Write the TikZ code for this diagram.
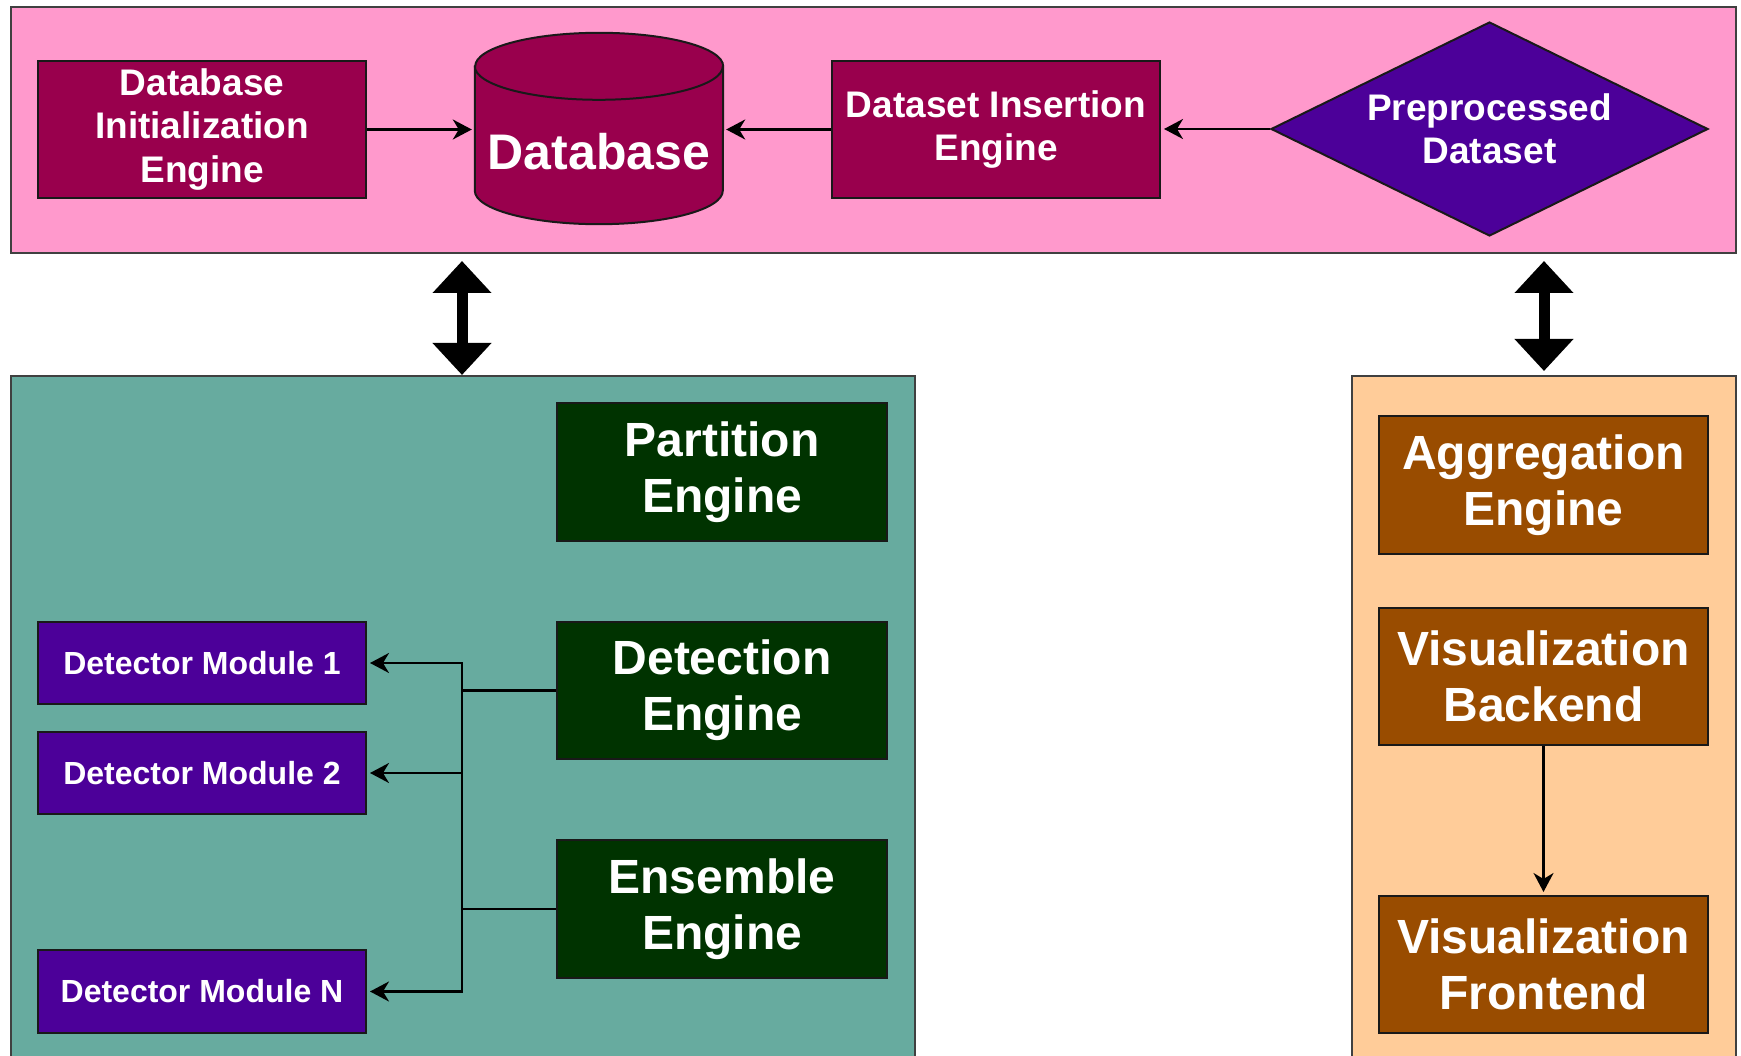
\documentclass[tikz,border=0pt]{standalone}
\usepackage{fontspec}
\setmainfont{Liberation Sans}
\usetikzlibrary{arrows.meta,shapes.geometric,calc}

\definecolor{storeBg}{HTML}{FF99CC}
\definecolor{storeBox}{HTML}{99004D}
\definecolor{dataViolet}{HTML}{4C0099}
\definecolor{analysisBg}{HTML}{67AB9F}
\definecolor{engineGreen}{HTML}{003300}
\definecolor{vizBg}{HTML}{FFCC99}
\definecolor{vizBox}{HTML}{994C00}

\begin{document}
\begin{tikzpicture}[x=1pt,y=-1pt,
  group/.style={draw=black!75, line width=2pt, inner sep=0pt, anchor=north west},
  box/.style={draw=black!90, line width=2pt, inner sep=0pt, text=white,
    font=\bfseries, align=center},
  smallfont/.style={font=\bfseries\fontsize{37}{43.5}\selectfont},
  bigfont/.style={font=\bfseries\fontsize{48}{56}\selectfont},
  modfont/.style={font=\bfseries\fontsize{32}{38}\selectfont},
  flow/.style={line width=2.2pt, shorten >=3pt,
    -{Stealth[length=19pt,width=20pt,inset=6pt]}},
  link/.style={line width=2.2pt},
  bigarrow/.style={line width=11pt,
    {Triangle[length=32pt,width=57pt]}-{Triangle[length=32pt,width=57pt]}}
]
\useasboundingbox (0,0) rectangle (1741,1056);
\clip (0,0) rectangle (1741,1056);
\fill[white] (0,0) rectangle (1741,1056);

% ---- container groups ----
\node[group, fill=storeBg, minimum width=1725, minimum height=246] (store) at (10,6) {};
\node[group, fill=analysisBg, minimum width=904, minimum height=720] (analysis) at (10,375) {};
\node[group, fill=vizBg, minimum width=384, minimum height=720] (viz) at (1351,375) {};

% ---- storage layer ----
\node[box, smallfont, fill=storeBox, minimum width=328, minimum height=137] (init) at (202,129.5)
  {Database\\Initialization\\Engine};
\node[inner sep=0pt, minimum width=248, minimum height=191] (db) at (599,128.5) {};
\path[draw=black!90, line width=2pt, fill=storeBox]
  ([yshift=-33.5pt]db.north west) -- ([yshift=33.5pt]db.south west)
  arc[start angle=180, end angle=360, x radius=124pt, y radius=33.5pt]
  -- ([yshift=-33.5pt]db.north east)
  arc[start angle=0, end angle=180, x radius=124pt, y radius=33.5pt] -- cycle;
\draw[black!90, line width=2pt] ([yshift=-33.5pt]db.north west)
  arc[start angle=180, end angle=360, x radius=124pt, y radius=33.5pt];
\node[text=white, font=\bfseries\fontsize{50}{58}\selectfont] (dblabel)
  at ([yshift=-23pt]db.center) {Database};
\node[box, smallfont, fill=storeBox, minimum width=328, minimum height=137] (ins) at (996,129.5)
  {Dataset Insertion\\Engine};
\node[box, smallfont, diamond, fill=dataViolet, minimum width=437, minimum height=214,
  aspect=2] (pre) at (1489.5,129) {Preprocessed\\Dataset};

\draw[flow] (init.east) -- (init.east -| db.west);
\draw[flow] (ins.west) -- (ins.west -| db.east);
\draw[flow] (pre.west) -- (pre.west -| ins.east);

% ---- links between layers ----
\coordinate (trunk) at (462,0);
\draw[bigarrow, shorten <=7pt] (store.south -| trunk) -- (analysis.north -| trunk);
\draw[bigarrow, shorten <=7pt, shorten >=4pt] (store.south -| viz.north) -- (viz.north);

% ---- analysis layer ----
\node[box, bigfont, fill=engineGreen, minimum width=330, minimum height=138] (part) at (722,472)
  {Partition\\Engine};
\node[box, bigfont, fill=engineGreen, minimum width=330, minimum height=137] (det) at (722,690.5)
  {Detection\\Engine};
\node[box, bigfont, fill=engineGreen, minimum width=330, minimum height=138] (ens) at (722,909)
  {Ensemble\\Engine};
\node[box, modfont, fill=dataViolet, minimum width=328, minimum height=82] (dm1) at (202,663)
  {Detector Module 1};
\node[box, modfont, fill=dataViolet, minimum width=328, minimum height=82] (dm2) at (202,773)
  {Detector Module 2};
\node[box, modfont, fill=dataViolet, minimum width=328, minimum height=83] (dmN) at (202,991.5)
  {Detector Module N};

\draw[link] (det.west) -- (det.west -| trunk);
\draw[flow] (det.west -| trunk) |- (dm1.east);
\draw[flow] (det.west -| trunk) |- (dm2.east);
\draw[link] (dm2.east -| trunk) -- (ens.west -| trunk);
\draw[link] (ens.west) -- (ens.west -| trunk);
\draw[flow] (ens.west -| trunk) |- (dmN.east);

% ---- visualization layer ----
\node[box, bigfont, fill=vizBox, minimum width=329, minimum height=138] (agg) at (1543.5,485)
  {Aggregation\\Engine};
\node[box, bigfont, fill=vizBox, minimum width=329, minimum height=137] (back) at (1543.5,676.5)
  {Visualization\\Backend};
\node[box, bigfont, fill=vizBox, minimum width=329, minimum height=137] (front) at (1543.5,964.5)
  {Visualization\\Frontend};
\draw[flow] (back.south) -- (front.north);
\end{tikzpicture}
\end{document}
